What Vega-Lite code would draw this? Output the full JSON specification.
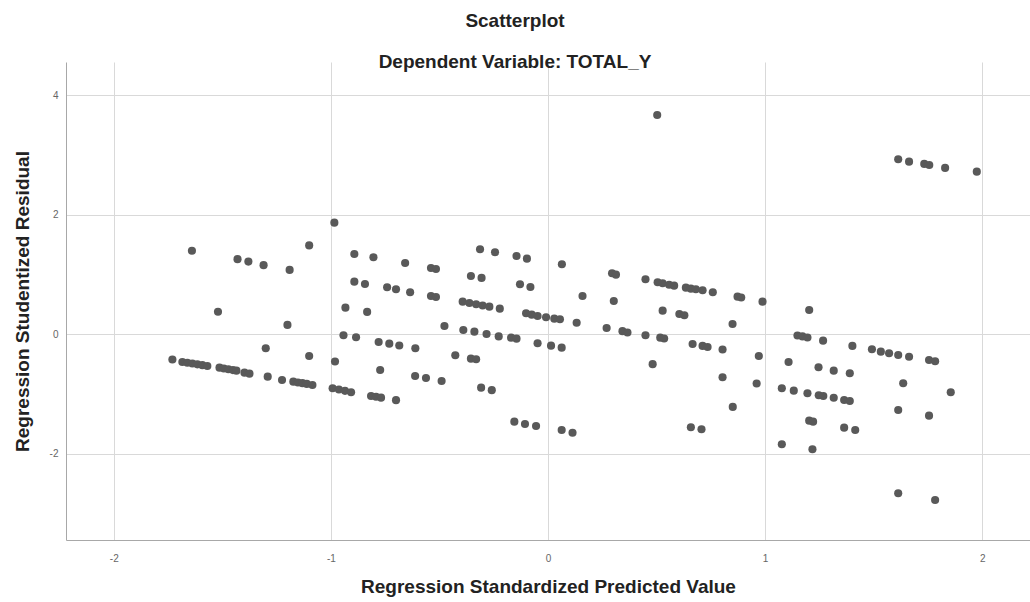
{
  "$schema": "https://vega.github.io/schema/vega-lite/v6.json",
  "width": 964,
  "height": 478,
  "autosize": "none",
  "padding": {"left": 66, "top": 62, "right": 0, "bottom": 62},
  "background": "white",
  "title": {
    "text": "Scatterplot",
    "subtitle": "Dependent Variable: TOTAL_Y",
    "anchor": "middle",
    "dx": -33,
    "offset": -10,
    "font": "Liberation Sans",
    "fontSize": 19,
    "fontWeight": "bold",
    "color": "#222222",
    "subtitleFont": "Liberation Sans",
    "subtitleFontSize": 19,
    "subtitleFontWeight": "bold",
    "subtitleColor": "#222222",
    "subtitlePadding": 22
  },
  "config": {
    "view": {"stroke": null},
    "axis": {
      "labelFont": "Liberation Sans",
      "labelFontSize": 10,
      "labelColor": "#666666",
      "titleFont": "Liberation Sans",
      "titleFontSize": 19,
      "titleFontWeight": "bold",
      "titleColor": "#222222",
      "gridColor": "#d9d9d9",
      "gridWidth": 1,
      "domainColor": "#a8a8a8",
      "ticks": false
    }
  },
  "data": {
    "values": [
      {"pred": -1.64, "resid": 1.40}, {"pred": -1.43, "resid": 1.26}, {"pred": -1.38, "resid": 1.22}, {"pred": -1.31, "resid": 1.16},
      {"pred": -1.19, "resid": 1.08}, {"pred": -1.10, "resid": 1.49}, {"pred": -1.52, "resid": 0.38}, {"pred": -1.20, "resid": 0.16},
      {"pred": -1.30, "resid": -0.23}, {"pred": -1.10, "resid": -0.36}, {"pred": -1.73, "resid": -0.42}, {"pred": -1.684, "resid": -0.46},
      {"pred": -1.661, "resid": -0.474}, {"pred": -1.638, "resid": -0.487}, {"pred": -1.615, "resid": -0.50}, {"pred": -1.592, "resid": -0.514},
      {"pred": -1.569, "resid": -0.527}, {"pred": -1.513, "resid": -0.556}, {"pred": -1.493, "resid": -0.569}, {"pred": -1.472, "resid": -0.582},
      {"pred": -1.451, "resid": -0.596}, {"pred": -1.435, "resid": -0.606}, {"pred": -1.398, "resid": -0.639}, {"pred": -1.375, "resid": -0.656},
      {"pred": -1.291, "resid": -0.706}, {"pred": -1.225, "resid": -0.762}, {"pred": -1.173, "resid": -0.79}, {"pred": -1.152, "resid": -0.805},
      {"pred": -1.131, "resid": -0.815}, {"pred": -1.111, "resid": -0.828}, {"pred": -1.085, "resid": -0.845},
      {"pred": -0.984, "resid": 1.871}, {"pred": -0.892, "resid": 1.347}, {"pred": -0.804, "resid": 1.292}, {"pred": -0.658, "resid": 1.197},
      {"pred": -0.539, "resid": 1.113}, {"pred": -0.516, "resid": 1.096}, {"pred": -0.313, "resid": 1.426}, {"pred": -0.244, "resid": 1.376},
      {"pred": -0.892, "resid": 0.884}, {"pred": -0.843, "resid": 0.845}, {"pred": -0.741, "resid": 0.79}, {"pred": -0.70, "resid": 0.756},
      {"pred": -0.635, "resid": 0.706}, {"pred": -0.539, "resid": 0.644}, {"pred": -0.516, "resid": 0.628}, {"pred": -0.355, "resid": 0.979},
      {"pred": -0.306, "resid": 0.946}, {"pred": -0.933, "resid": 0.449}, {"pred": -0.833, "resid": 0.377}, {"pred": -0.477, "resid": 0.142},
      {"pred": -0.393, "resid": 0.549}, {"pred": -0.362, "resid": 0.527}, {"pred": -0.331, "resid": 0.505}, {"pred": -0.301, "resid": 0.485},
      {"pred": -0.27, "resid": 0.465}, {"pred": -0.222, "resid": 0.432}, {"pred": -0.942, "resid": -0.013}, {"pred": -0.884, "resid": -0.047},
      {"pred": -0.78, "resid": -0.126}, {"pred": -0.731, "resid": -0.154}, {"pred": -0.685, "resid": -0.184}, {"pred": -0.611, "resid": -0.231},
      {"pred": -0.39, "resid": 0.075}, {"pred": -0.339, "resid": 0.047}, {"pred": -0.283, "resid": 0.008}, {"pred": -0.227, "resid": -0.033},
      {"pred": -0.981, "resid": -0.452}, {"pred": -0.773, "resid": -0.594}, {"pred": -0.612, "resid": -0.695}, {"pred": -0.562, "resid": -0.728},
      {"pred": -0.49, "resid": -0.778}, {"pred": -0.427, "resid": -0.348}, {"pred": -0.355, "resid": -0.405}, {"pred": -0.331, "resid": -0.415},
      {"pred": -0.308, "resid": -0.89}, {"pred": -0.259, "resid": -0.932}, {"pred": -0.992, "resid": -0.90}, {"pred": -0.963, "resid": -0.922},
      {"pred": -0.935, "resid": -0.944}, {"pred": -0.907, "resid": -0.967}, {"pred": -0.815, "resid": -1.029}, {"pred": -0.792, "resid": -1.043},
      {"pred": -0.769, "resid": -1.058}, {"pred": -0.70, "resid": -1.10},
      {"pred": -0.145, "resid": 1.314}, {"pred": -0.097, "resid": 1.269}, {"pred": 0.064, "resid": 1.175}, {"pred": -0.129, "resid": 0.84},
      {"pred": -0.081, "resid": 0.795}, {"pred": 0.159, "resid": 0.644}, {"pred": 0.295, "resid": 1.024}, {"pred": 0.313, "resid": 1.001},
      {"pred": 0.449, "resid": 0.924}, {"pred": 0.303, "resid": 0.561}, {"pred": 0.528, "resid": 0.398}, {"pred": -0.101, "resid": 0.355},
      {"pred": -0.075, "resid": 0.331}, {"pred": -0.048, "resid": 0.31}, {"pred": -0.009, "resid": 0.288}, {"pred": 0.029, "resid": 0.264},
      {"pred": 0.055, "resid": 0.254}, {"pred": 0.132, "resid": 0.197}, {"pred": 0.27, "resid": 0.109}, {"pred": 0.343, "resid": 0.055},
      {"pred": 0.366, "resid": 0.033}, {"pred": 0.449, "resid": -0.013}, {"pred": 0.517, "resid": -0.054}, {"pred": 0.535, "resid": -0.067},
      {"pred": -0.17, "resid": -0.054}, {"pred": -0.145, "resid": -0.07}, {"pred": -0.048, "resid": -0.147}, {"pred": 0.014, "resid": -0.187},
      {"pred": 0.063, "resid": -0.221}, {"pred": 0.482, "resid": -0.497}, {"pred": -0.155, "resid": -1.459}, {"pred": -0.106, "resid": -1.498},
      {"pred": -0.055, "resid": -1.531}, {"pred": 0.063, "resid": -1.598}, {"pred": 0.113, "resid": -1.644}, {"pred": 0.503, "resid": 3.674},
      {"pred": 0.505, "resid": 0.874}, {"pred": 0.528, "resid": 0.857}, {"pred": 0.558, "resid": 0.833}, {"pred": 0.581, "resid": 0.817},
      {"pred": 0.635, "resid": 0.783}, {"pred": 0.658, "resid": 0.767}, {"pred": 0.681, "resid": 0.756}, {"pred": 0.712, "resid": 0.74},
      {"pred": 0.759, "resid": 0.706}, {"pred": 0.873, "resid": 0.633}, {"pred": 0.89, "resid": 0.619}, {"pred": 0.988, "resid": 0.549},
      {"pred": 1.203, "resid": 0.41}, {"pred": 0.605, "resid": 0.343}, {"pred": 0.628, "resid": 0.321}, {"pred": 0.85, "resid": 0.176},
      {"pred": 0.666, "resid": -0.159}, {"pred": 0.712, "resid": -0.192}, {"pred": 0.735, "resid": -0.209}, {"pred": 0.804, "resid": -0.251},
      {"pred": 0.971, "resid": -0.36}, {"pred": 1.149, "resid": -0.017}, {"pred": 1.172, "resid": -0.033}, {"pred": 1.195, "resid": -0.05},
      {"pred": 1.267, "resid": -0.104}, {"pred": 1.108, "resid": -0.46}, {"pred": 1.246, "resid": -0.549}, {"pred": 1.316, "resid": -0.606},
      {"pred": 0.804, "resid": -0.716}, {"pred": 0.961, "resid": -0.82}, {"pred": 1.077, "resid": -0.90}, {"pred": 1.132, "resid": -0.941},
      {"pred": 1.195, "resid": -0.984}, {"pred": 1.247, "resid": -1.018}, {"pred": 1.268, "resid": -1.029}, {"pred": 1.316, "resid": -1.059},
      {"pred": 0.851, "resid": -1.213}, {"pred": 0.658, "resid": -1.553}, {"pred": 0.707, "resid": -1.587}, {"pred": 1.203, "resid": -1.443},
      {"pred": 1.221, "resid": -1.459}, {"pred": 1.077, "resid": -1.838}, {"pred": 1.218, "resid": -1.921},
      {"pred": 1.613, "resid": 2.932}, {"pred": 1.663, "resid": 2.892}, {"pred": 1.733, "resid": 2.854}, {"pred": 1.756, "resid": 2.837},
      {"pred": 1.829, "resid": 2.787}, {"pred": 1.975, "resid": 2.725}, {"pred": 1.402, "resid": -0.192}, {"pred": 1.492, "resid": -0.248},
      {"pred": 1.533, "resid": -0.288}, {"pred": 1.571, "resid": -0.315}, {"pred": 1.613, "resid": -0.343}, {"pred": 1.663, "resid": -0.372},
      {"pred": 1.755, "resid": -0.427}, {"pred": 1.783, "resid": -0.449}, {"pred": 1.39, "resid": -0.649}, {"pred": 1.636, "resid": -0.817},
      {"pred": 1.855, "resid": -0.967}, {"pred": 1.364, "resid": -1.096}, {"pred": 1.39, "resid": -1.113}, {"pred": 1.613, "resid": -1.264},
      {"pred": 1.755, "resid": -1.359}, {"pred": 1.364, "resid": -1.56}, {"pred": 1.415, "resid": -1.598}, {"pred": 1.613, "resid": -2.658},
      {"pred": 1.783, "resid": -2.77}
    ]
  },
  "mark": {"type": "circle", "size": 66, "color": "#595959", "opacity": 1},
  "encoding": {
    "x": {
      "field": "pred",
      "type": "quantitative",
      "scale": {"domain": [-2.22, 2.22], "nice": false, "zero": false},
      "axis": {
        "title": "Regression Standardized Predicted Value",
        "values": [-2, -1, 0, 1, 2],
        "labelExpr": "'' + datum.value",
        "labelPadding": 13,
        "titlePadding": 14
      }
    },
    "y": {
      "field": "resid",
      "type": "quantitative",
      "scale": {"domain": [-3.44, 4.56], "nice": false, "zero": false},
      "axis": {
        "title": "Regression Studentized Residual",
        "values": [-2, 0, 2, 4],
        "labelExpr": "'' + datum.value",
        "labelPadding": 8,
        "titlePadding": 17
      }
    }
  }
}
